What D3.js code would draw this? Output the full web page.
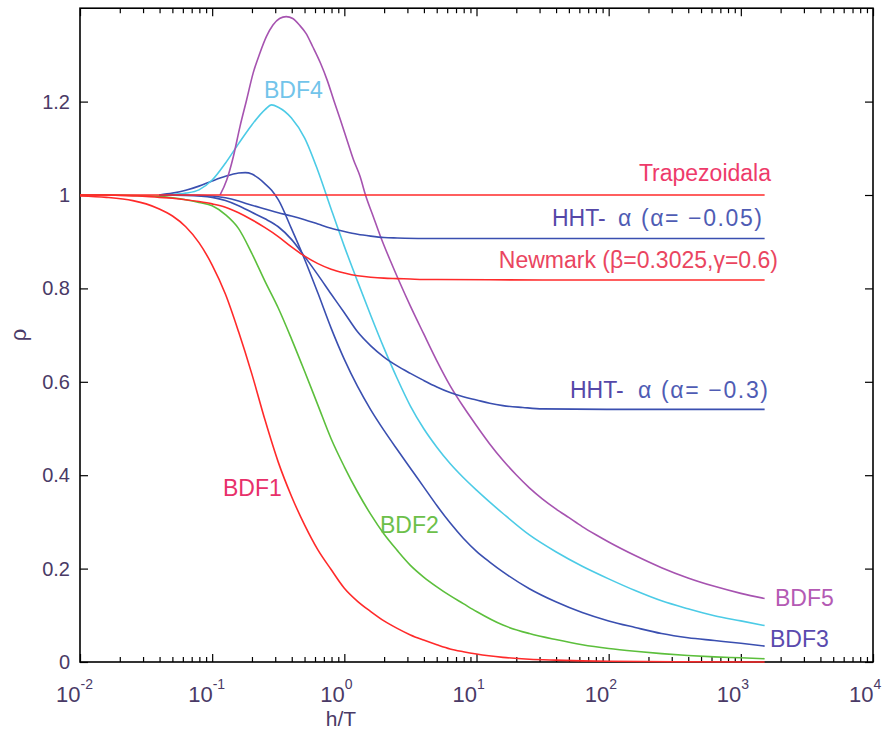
<!DOCTYPE html>
<html>
<head>
<meta charset="utf-8">
<script src="https://cdn.jsdelivr.net/npm/d3@7"></script>
<style>
body{margin:0;background:#fff}
svg{display:block;font-family:"Liberation Sans",Arial,sans-serif}
</style>
</head>
<body>
<svg></svg>
<script>
// log10(h/T) and spectral radius
let lgTrap = [-2, 3.18]
let rhoTrap = [1, 1]

let lgBDF1 = [-2,-1.8,-1.6,-1.5,-1.4,-1.3,-1.2,-1.1,-1.0,-0.9,-0.8,-0.7,-0.6,-0.5,-0.4,-0.3,-0.2,-0.1,0,0.1,0.2,0.3,0.4,0.5,0.6,0.7,0.8,0.9,1.0,1.2,1.4,1.6,1.8,2.0,2.5,3.18]
let rhoBDF1 = [0.998,0.995,0.988,0.981,0.970,0.955,0.932,0.898,0.850,0.788,0.707,0.617,0.518,0.428,0.355,0.293,0.240,0.198,0.158,0.130,0.108,0.088,0.072,0.058,0.047,0.037,0.028,0.022,0.017,0.010,0.006,0.004,0.0025,0.0016,0.0005,0.0001]

let lgBDF2 = [-2,-1.8,-1.6,-1.5,-1.4,-1.3,-1.2,-1.1,-1.0,-0.9,-0.8,-0.7,-0.6,-0.5,-0.4,-0.3,-0.2,-0.1,0,0.1,0.2,0.3,0.4,0.5,0.6,0.7,0.8,0.9,1.0,1.2,1.4,1.6,1.8,2.0,2.2,2.4,2.6,2.8,3.0,3.18]
let rhoBDF2 = [1.0,1.0,0.999,0.998,0.997,0.994,0.990,0.984,0.977,0.958,0.928,0.875,0.815,0.758,0.692,0.622,0.550,0.478,0.418,0.364,0.316,0.274,0.239,0.207,0.182,0.161,0.142,0.125,0.108,0.079,0.061,0.048,0.037,0.029,0.023,0.018,0.014,0.011,0.009,0.007]

let lgBDF3 = [-1.4,-1.3,-1.2,-1.1,-1.0,-0.9,-0.8,-0.75,-0.7,-0.65,-0.6,-0.55,-0.5,-0.4,-0.3,-0.2,-0.1,0,0.1,0.2,0.3,0.4,0.5,0.6,0.7,0.8,0.9,1.0,1.1,1.2,1.4,1.6,1.8,2.0,2.2,2.4,2.6,2.8,3.0,3.18]
let rhoBDF3 = [1.0,1.004,1.010,1.019,1.030,1.040,1.047,1.048,1.045,1.036,1.024,1.010,0.990,0.928,0.862,0.790,0.715,0.648,0.590,0.540,0.496,0.455,0.415,0.375,0.335,0.298,0.265,0.237,0.214,0.193,0.157,0.129,0.106,0.088,0.074,0.061,0.052,0.046,0.040,0.034]

let lgBDF4 = [-1.4,-1.3,-1.2,-1.1,-1.0,-0.9,-0.8,-0.7,-0.6,-0.55,-0.5,-0.4,-0.3,-0.2,-0.1,0,0.1,0.2,0.3,0.4,0.5,0.6,0.7,0.8,0.9,1.0,1.2,1.4,1.6,1.8,2.0,2.2,2.4,2.6,2.8,3.0,3.18]
let rhoBDF4 = [1.0,1.001,1.004,1.011,1.032,1.068,1.110,1.150,1.183,1.193,1.188,1.165,1.122,1.052,0.970,0.890,0.815,0.742,0.672,0.607,0.548,0.500,0.460,0.425,0.395,0.368,0.318,0.272,0.236,0.205,0.178,0.153,0.131,0.114,0.099,0.088,0.078]

let lgBDF5 = [-0.94,-0.89,-0.84,-0.79,-0.74,-0.69,-0.64,-0.59,-0.54,-0.49,-0.44,-0.39,-0.34,-0.29,-0.24,-0.18,-0.13,-0.08,-0.03,0.02,0.07,0.12,0.16,0.22,0.27,0.35,0.42,0.5,0.6,0.7,0.8,0.9,1.0,1.1,1.2,1.3,1.4,1.5,1.6,1.7,1.8,1.9,2.0,2.2,2.4,2.6,2.8,3.0,3.18]
let rhoBDF5 = [1.0,1.032,1.082,1.146,1.203,1.261,1.303,1.339,1.364,1.378,1.382,1.378,1.364,1.346,1.318,1.282,1.246,1.203,1.161,1.118,1.075,1.039,1.0,0.953,0.914,0.858,0.812,0.762,0.703,0.645,0.592,0.547,0.506,0.467,0.432,0.401,0.373,0.349,0.328,0.309,0.290,0.273,0.257,0.228,0.202,0.180,0.162,0.147,0.136]

let lgHHT1 = [-1.4,-1.2,-1.0,-0.9,-0.8,-0.7,-0.6,-0.5,-0.4,-0.3,-0.2,-0.1,0,0.1,0.2,0.3,0.4,0.6,1.0,3.18]
let rhoHHT1 = [1.0,1.0,0.998,0.994,0.987,0.978,0.970,0.962,0.955,0.947,0.938,0.929,0.922,0.916,0.912,0.909,0.908,0.907,0.907,0.907]

let lgHHT2 = [-1.4,-1.2,-1.0,-0.9,-0.8,-0.7,-0.6,-0.5,-0.4,-0.3,-0.2,-0.1,0,0.1,0.2,0.3,0.4,0.5,0.6,0.7,0.8,0.9,1.0,1.1,1.2,1.35,1.5,2.0,3.18]
let rhoHHT2 = [1.0,0.999,0.995,0.988,0.977,0.963,0.949,0.932,0.905,0.868,0.829,0.788,0.748,0.707,0.677,0.653,0.634,0.618,0.603,0.589,0.577,0.568,0.561,0.554,0.549,0.545,0.542,0.541,0.541]

let lgNewmark = [-2,-1.8,-1.7,-1.6,-1.5,-1.4,-1.3,-1.2,-1.1,-1.0,-0.9,-0.8,-0.7,-0.6,-0.5,-0.4,-0.3,-0.2,-0.1,0,0.1,0.2,0.3,0.4,0.5,0.6,0.7,1.5,3.18]
let rhoNewmark = [1.0,1.0,0.999,0.998,0.997,0.995,0.993,0.990,0.986,0.981,0.974,0.962,0.947,0.930,0.911,0.889,0.869,0.853,0.841,0.833,0.827,0.824,0.822,0.821,0.820,0.819,0.819,0.818,0.818]

let yTicks = [0,0.2,0.4,0.6,0.8,1,1.2]
let yTickLabels = ['0','0.2','0.4','0.6','0.8','1','1.2']
let xMajor = [1e-2,1e-1,1e0,1e1,1e2,1e3,1e4]
let xExp = ['-2','-1','0','1','2','3','4']

let width = 888
let height = 733
let padL = 80, padR = 873, padT = 8.2, padB = 662

let svg = d3.select('svg')
svg.attr('width',width).attr('height',height)

let xScale = d3.scaleLog().domain([1e-2,1e4]).range([padL,padR])
let yScale = d3.scaleLinear().domain([0,1.4]).range([padB,padT])

let xMinor = []
d3.range(-2,4).forEach(k => { d3.range(2,10).forEach(m => xMinor.push(m*Math.pow(10,k))) })

let makeAxes = () => {
  let g = svg.append('g')
  let tickStyle = sel => { sel.select('.domain').remove(); sel.selectAll('line').attr('stroke','#000').attr('stroke-width',1.2) }

  g.append('g').attr('transform','translate(0,'+padB+')')
   .call(d3.axisBottom(xScale).tickValues(xMajor).tickSize(-8).tickFormat('')).call(tickStyle)
  g.append('g').attr('transform','translate(0,'+padB+')')
   .call(d3.axisBottom(xScale).tickValues(xMinor).tickSize(-5).tickFormat('')).call(tickStyle)
  g.append('g').attr('transform','translate(0,'+padT+')')
   .call(d3.axisTop(xScale).tickValues(xMajor).tickSize(-8).tickFormat('')).call(tickStyle)
  g.append('g').attr('transform','translate(0,'+padT+')')
   .call(d3.axisTop(xScale).tickValues(xMinor).tickSize(-5).tickFormat('')).call(tickStyle)

  let yl = g.append('g').attr('transform','translate('+padL+',0)')
   .call(d3.axisLeft(yScale).tickValues(yTicks).tickSize(-8).tickPadding(10).tickFormat((d,i)=>yTickLabels[i]))
   .call(tickStyle)
  yl.selectAll('text').attr('font-size',20).attr('fill','#4a3a66').attr('font-family','"Liberation Sans",Arial,sans-serif')
  g.append('g').attr('transform','translate('+padR+',0)')
   .call(d3.axisRight(yScale).tickValues(yTicks).tickSize(-8).tickFormat('')).call(tickStyle)

  // 10^k labels
  let xl = g.selectAll('.xlab').data(xMajor).enter().append('text')
    .attr('class','xlab')
    .attr('x',d=>xScale(d)-24)
    .attr('y',padB+40)
    .attr('font-size',22)
    .attr('fill','#4a3a66')
  xl.append('tspan').text('10')
  xl.append('tspan').attr('font-size',14).attr('dy',-13).text((d,i)=>xExp[i])

  svg.append('rect')
     .attr('x',padL).attr('y',padT)
     .attr('width',padR-padL).attr('height',padB-padT)
     .attr('fill','none').attr('stroke','#000').attr('stroke-width',1.6)

  svg.append('text').attr('x',341).attr('y',726).attr('text-anchor','middle')
     .attr('font-size',21).attr('fill','#4a3a66').text('h/T')
  svg.append('text').attr('transform','translate(26,335) rotate(-90)').attr('text-anchor','middle')
     .attr('font-size',22).attr('fill','#4a3a66').text('ρ')
}

let series = [
  {lg: lgBDF1, rho: rhoBDF1, color: '#ff2a2a'},
  {lg: lgBDF2, rho: rhoBDF2, color: '#5cbf3c'},
  {lg: lgBDF3, rho: rhoBDF3, color: '#3a4fb0'},
  {lg: lgBDF4, rho: rhoBDF4, color: '#4ccbe6'},
  {lg: lgBDF5, rho: rhoBDF5, color: '#a653b0'},
  {lg: lgHHT2, rho: rhoHHT2, color: '#3a4fb0'},
  {lg: lgHHT1, rho: rhoHHT1, color: '#3a4fb0'},
  {lg: lgNewmark, rho: rhoNewmark, color: '#ff2a2a'},
  {lg: lgTrap, rho: rhoTrap, color: '#ff2a2a'}
]

let makeLines = () => {
  let line = d3.line()
    .x(d => xScale(Math.pow(10,d[0])))
    .y(d => yScale(d[1]))
    .curve(d3.curveMonotoneX)

  svg.append('g').selectAll('path')
     .data(series)
     .enter()
     .append('path')
     .attr('d', s => line(s.lg.map((v,i)=>[v,s.rho[i]])))
     .attr('fill','none')
     .attr('stroke', s => s.color)
     .attr('stroke-width',1.6)
}

// curve names; the two HHT names are split so the alpha part sits where it does in the figure
let labels = [
  {text:'BDF4', x:264, y:98, anchor:'start', color:'#72c4ea'},
  {text:'Trapezoidala', x:771, y:181, anchor:'end', color:'#ee3a6a'},
  {text:'HHT-', x:552, y:226, anchor:'start', color:'#5548a8'},
  {text:'α (α= −0.05)', x:618, y:226, anchor:'start', color:'#4f5cb4', len:144},
  {text:'Newmark (β=0.3025,γ=0.6)', x:778, y:268, anchor:'end', color:'#ea4560'},
  {text:'HHT-', x:570, y:398, anchor:'start', color:'#5548a8'},
  {text:'α (α= −0.3)', x:638, y:398, anchor:'start', color:'#4f5cb4', len:130},
  {text:'BDF1', x:223, y:496, anchor:'start', color:'#e8306a'},
  {text:'BDF2', x:380, y:533, anchor:'start', color:'#6cc04a'},
  {text:'BDF5', x:775, y:606, anchor:'start', color:'#b45ab4'},
  {text:'BDF3', x:770, y:647, anchor:'start', color:'#5a4aae'}
]

let makeLabels = () => {
  let t = svg.append('g').selectAll('text')
     .data(labels)
     .enter()
     .append('text')
     .attr('x',d=>d.x).attr('y',d=>d.y)
     .attr('text-anchor',d=>d.anchor)
     .attr('font-size',23)
     .attr('fill',d=>d.color)
     .text(d=>d.text)
  t.filter(d=>d.len).attr('textLength',d=>d.len).attr('lengthAdjust','spacing')
}

makeAxes()
makeLines()
makeLabels()
</script>
</body>
</html>
